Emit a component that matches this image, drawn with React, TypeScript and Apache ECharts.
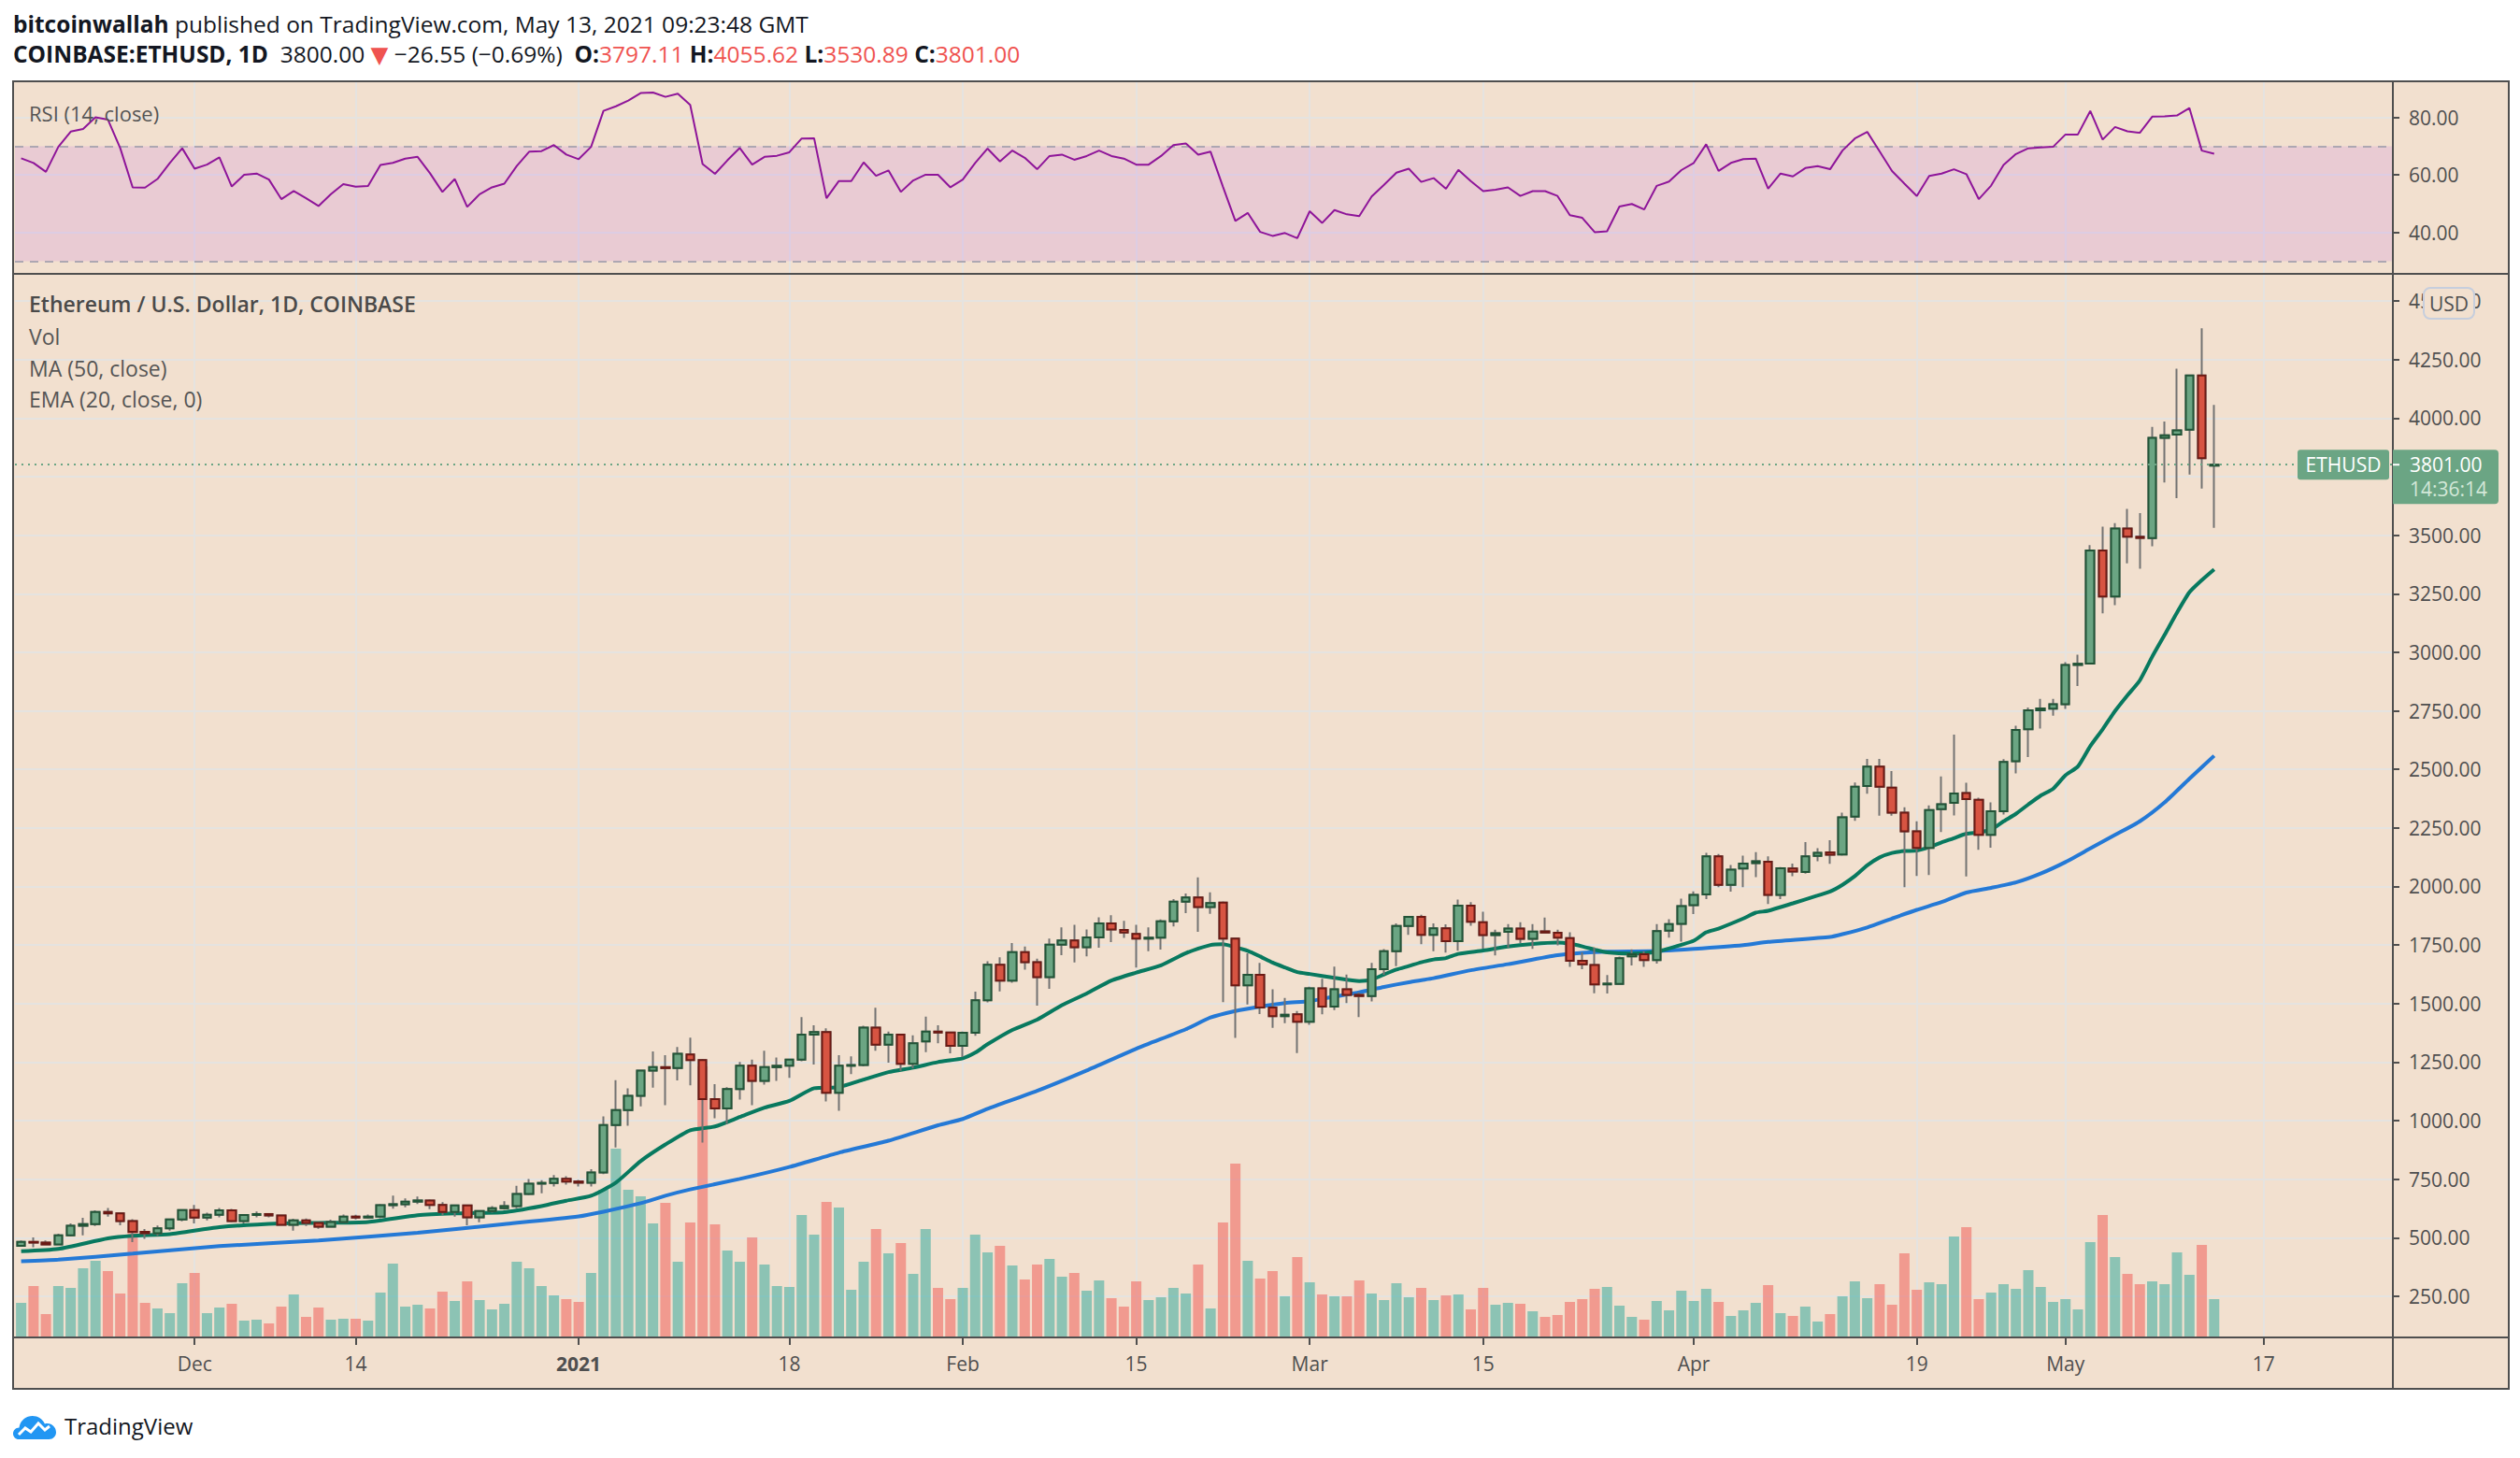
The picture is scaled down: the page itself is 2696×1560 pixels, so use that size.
import React, { useEffect, useRef } from "react";
import * as echarts from "echarts";

// ---------- categories (one per day, Nov 17 2020 .. May 27 2021) ----------
const START_UTC = Date.UTC(2020, 10, 17);
const N_DAYS = 192;
const categories: string[] = Array.from({ length: N_DAYS }, (_, i) =>
  new Date(START_UTC + i * 86400000).toISOString().slice(0, 10)
);

const tickDates = ["2020-12-01", "2020-12-14", "2021-01-01", "2021-01-18", "2021-02-01", "2021-02-15", "2021-03-01", "2021-03-15", "2021-04-01", "2021-04-19", "2021-05-01", "2021-05-17"];
const tickLabels = ["Dec", "14", "2021", "18", "Feb", "15", "Mar", "15", "Apr", "19", "May", "17"];
const priceTicks = [250, 500, 750, 1000, 1250, 1500, 1750, 2000, 2250, 2500, 2750, 3000, 3250, 3500, 3750, 4000, 4250, 4500];
const rsiTicks = [40, 60, 80];
const rsiLevels = [30, 70];

// ---------- daily OHLC (Nov 17 2020 .. May 13 2021) ----------
const opens = [
  465, 482, 479, 471, 510, 551, 558, 610, 604, 571, 525, 519, 540, 578,
  618, 586, 598, 617, 571, 597, 601, 595, 555, 574, 563, 547, 567, 590, 586, 590, 639, 643, 654, 659, 640, 610, 638, 587, 614, 626, 635, 687, 731, 734, 752,
  740, 735, 778, 981, 1045, 1106, 1213, 1228, 1224, 1282, 1258, 1092, 1052, 1135, 1234, 1170, 1228, 1234, 1260, 1367, 1378, 1119, 1234, 1237, 1397, 1324, 1367, 1242, 1338, 1380, 1376,
  1319, 1375, 1514, 1665, 1598, 1719, 1676, 1613, 1751, 1769, 1740, 1782, 1842, 1814, 1797, 1777, 1781, 1851, 1935, 1953, 1912, 1931, 1777, 1578, 1623, 1483, 1446, 1454,
  1422, 1565, 1487, 1561, 1537, 1532, 1647, 1723, 1831, 1870, 1793, 1821, 1766, 1918, 1847, 1792, 1806, 1820, 1776, 1808, 1802, 1779, 1682, 1664, 1582, 1584, 1701, 1710, 1685, 1811, 1840,
  1920, 1966, 2128, 2007, 2077, 2100, 2106, 1964, 2077, 2062, 2130, 2145, 2136, 2298, 2429, 2512, 2422, 2315, 2235, 2164, 2330, 2357, 2399, 2370, 2220, 2321, 2535, 2671, 2752, 2759,
  2778, 2946, 2952, 3435, 3238, 3528, 3493, 3487, 3916, 3930, 3950, 4182, 3797,
];
const highs = [
  488, 501, 488, 517, 561, 585, 617, 627, 606, 579, 537, 552, 579, 622,
  640, 607, 627, 623, 598, 612, 604, 596, 581, 582, 564, 577, 599, 598, 599, 644, 680, 668, 676, 664, 652, 640, 640, 615, 635, 656, 722, 751, 746, 767, 762,
  747, 792, 1018, 1173, 1138, 1213, 1295, 1279, 1314, 1354, 1263, 1156, 1143, 1250, 1260, 1298, 1269, 1262, 1442, 1407, 1394, 1279, 1274, 1405, 1482, 1380, 1368, 1364, 1444, 1407, 1380,
  1380, 1551, 1680, 1697, 1758, 1743, 1691, 1777, 1825, 1836, 1816, 1868, 1877, 1853, 1836, 1825, 1859, 1946, 1970, 2039, 1975, 1936, 1780, 1714, 1673, 1561, 1524, 1468,
  1572, 1606, 1658, 1624, 1548, 1673, 1732, 1842, 1870, 1879, 1842, 1838, 1944, 1933, 1892, 1815, 1839, 1847, 1839, 1867, 1815, 1804, 1718, 1739, 1622, 1700, 1731, 1723, 1839, 1860, 1948,
  1979, 2143, 2138, 2092, 2131, 2146, 2128, 2083, 2098, 2189, 2163, 2197, 2315, 2444, 2545, 2545, 2493, 2338, 2278, 2346, 2470, 2648, 2443, 2379, 2359, 2544, 2686, 2764, 2801, 2801,
  2958, 2990, 3458, 3536, 3551, 3612, 3594, 3962, 3985, 4211, 4182, 4384, 4056,
];
const lows = [
  463, 459, 467, 470, 505, 510, 550, 590, 553, 481, 495, 508, 530, 570,
  561, 574, 587, 566, 561, 587, 587, 551, 530, 550, 538, 543, 566, 578, 581, 583, 624, 630, 644, 622, 597, 590, 553, 566, 607, 620, 626, 682, 690, 719, 727,
  719, 719, 771, 885, 978, 1061, 1141, 1066, 1172, 1151, 906, 1010, 986, 1090, 1066, 1154, 1170, 1183, 1253, 1239, 1082, 1042, 1199, 1231, 1298, 1247, 1212, 1223, 1292, 1330, 1287,
  1271, 1362, 1505, 1552, 1589, 1645, 1491, 1563, 1706, 1675, 1701, 1738, 1762, 1780, 1654, 1723, 1730, 1829, 1886, 1806, 1883, 1506, 1353, 1496, 1455, 1396, 1416, 1288,
  1409, 1454, 1472, 1502, 1442, 1509, 1623, 1660, 1793, 1753, 1723, 1717, 1725, 1832, 1734, 1705, 1738, 1758, 1733, 1801, 1748, 1657, 1647, 1544, 1543, 1583, 1663, 1657, 1670, 1781, 1764,
  1882, 1946, 1997, 1978, 1997, 2040, 1925, 1946, 2044, 2055, 2108, 2097, 2131, 2280, 2396, 2302, 2302, 1997, 2045, 2049, 2232, 2303, 2043, 2156, 2165, 2307, 2483, 2553, 2674, 2729,
  2758, 2856, 2950, 3166, 3201, 3380, 3357, 3453, 3725, 3658, 3759, 3699, 3531,
];
const closes = [
  482, 479, 471, 510, 551, 558, 610, 604, 571, 525, 519, 540, 578, 618,
  586, 598, 617, 571, 597, 601, 595, 555, 574, 563, 547, 567, 590, 586, 590, 639, 643, 654, 659, 640, 610, 638, 587, 614, 626, 635, 687, 731, 734, 752, 740,
  735, 778, 981, 1045, 1106, 1213, 1228, 1224, 1285, 1258, 1092, 1052, 1135, 1234, 1170, 1228, 1234, 1260, 1367, 1378, 1119, 1234, 1237, 1397, 1324, 1367, 1242, 1330, 1380, 1376, 1319,
  1375, 1514, 1665, 1598, 1719, 1676, 1613, 1751, 1769, 1740, 1782, 1842, 1816, 1803, 1777, 1781, 1851, 1935, 1953, 1912, 1929, 1777, 1578, 1623, 1483, 1446, 1452, 1422,
  1565, 1487, 1561, 1537, 1532, 1647, 1723, 1831, 1870, 1793, 1821, 1766, 1918, 1849, 1792, 1800, 1820, 1776, 1807, 1803, 1781, 1682, 1667, 1582, 1585, 1693, 1710, 1685, 1809, 1839, 1916,
  1964, 2128, 2007, 2072, 2098, 2108, 1964, 2078, 2064, 2128, 2143, 2135, 2295, 2426, 2512, 2426, 2315, 2235, 2164, 2326, 2351, 2397, 2373, 2220, 2321, 2532, 2668, 2752, 2760, 2778,
  2946, 2951, 3435, 3238, 3528, 3493, 3488, 3916, 3927, 3947, 4182, 3829, 3801,
];
// relative daily volume
const volumes = [
  37, 55, 25, 55, 53, 74, 82, 71, 47, 112, 37, 31, 26, 58,
  69, 26, 32, 36, 18, 19, 15, 33, 46, 22, 32, 19, 20, 20, 18, 48, 79, 33, 35, 31, 49, 39, 60, 40, 30, 36, 81, 74, 55, 45, 41,
  38, 69, 158, 202, 158, 151, 122, 144, 81, 123, 290, 121, 93, 81, 107, 78, 55, 54, 131, 110, 145, 139, 51, 81, 116, 90, 101, 68, 116, 53, 41,
  53, 110, 91, 98, 77, 62, 78, 84, 65, 69, 50, 61, 42, 33, 60, 40, 43, 53, 47, 78, 31, 123, 186, 82, 63, 71, 44, 86,
  59, 46, 44, 44, 61, 47, 40, 58, 43, 53, 40, 45, 46, 30, 53, 35, 37, 36, 28, 22, 24, 38, 41, 52, 54, 34, 22, 19, 39, 29, 50,
  39, 52, 38, 23, 29, 37, 56, 26, 23, 33, 17, 25, 44, 60, 42, 57, 35, 90, 51, 59, 57, 108, 118, 41, 48, 57, 52, 72, 54, 38,
  41, 30, 102, 131, 86, 68, 57, 60, 57, 91, 67, 99, 41,
];
// RSI (14, close)
const rsi = [
  65.8, 64.2, 61.1, 69.8, 75.1, 76.0, 80.1, 79.3, 69.3, 55.7, 55.6, 58.6, 64.2, 69.3,
  62.2, 63.6, 66.1, 56.0, 60.1, 60.5, 58.4, 51.6, 54.4, 51.9, 49.2, 53.3, 56.8, 55.9, 56.2, 63.5, 64.2, 65.7, 66.3, 60.6, 54.1, 58.6, 48.9, 53.3, 55.7, 57.0, 63.1, 68.1, 68.3, 70.4, 67.1,
  65.5, 69.8, 82.3, 83.9, 85.9, 88.5, 88.7, 87.2, 88.3, 84.4, 63.8, 60.4, 65.1, 69.4, 63.6, 66.3, 66.7, 67.9, 72.7, 72.8, 51.9, 57.9, 57.9, 64.4, 59.7, 61.6, 54.1, 58.1, 60.1, 60.1, 55.7,
  58.4, 64.2, 69.2, 64.7, 68.5, 66.0, 62.0, 66.6, 67.1, 65.3, 66.6, 68.5, 66.6, 65.7, 63.6, 63.6, 66.6, 70.4, 71.0, 67.1, 68.1, 55.9, 44.0, 46.8, 40.2, 38.8, 39.8, 38.0,
  47.4, 43.3, 47.8, 46.3, 45.7, 52.5, 56.6, 60.8, 62.2, 57.6, 58.9, 55.2, 61.8, 57.9, 54.4, 54.9, 55.7, 52.7, 54.4, 54.4, 52.7, 46.0, 45.1, 40.1, 40.4, 49.0, 49.9, 48.0, 56.2, 57.7, 61.7,
  64.2, 70.7, 61.4, 64.2, 65.5, 65.7, 55.2, 60.5, 59.5, 62.4, 63.1, 62.0, 68.5, 72.7, 75.0, 68.2, 61.4, 57.0, 52.7, 59.7, 60.5, 62.0, 60.3, 51.6, 56.3, 63.5, 67.3, 69.3, 69.6, 69.8,
  74.1, 74.1, 82.3, 72.3, 76.7, 75.2, 74.7, 80.3, 80.4, 80.7, 83.3, 68.5, 67.4,
];
// EMA (20, close)
const ema20: [string, number][] = [
  ["2020-11-17", 442], ["2020-11-20", 452], ["2020-11-24", 497], ["2020-11-26", 508], ["2020-11-29", 515], ["2020-12-03", 545], ["2020-12-08", 561], ["2020-12-11", 563], ["2020-12-15", 567], ["2020-12-19", 596], ["2020-12-22", 604], ["2020-12-26", 609], ["2020-12-29", 635], ["2020-12-31", 658],
  ["2021-01-02", 679], ["2021-01-04", 735], ["2021-01-06", 827], ["2021-01-08", 898], ["2021-01-10", 959], ["2021-01-12", 975], ["2021-01-14", 1015], ["2021-01-16", 1055], ["2021-01-18", 1084], ["2021-01-20", 1138], ["2021-01-22", 1143], ["2021-01-24", 1175], ["2021-01-26", 1207], ["2021-01-28", 1226], ["2021-01-30", 1250],
  ["2021-02-01", 1266], ["2021-02-02", 1290], ["2021-02-03", 1326], ["2021-02-05", 1387], ["2021-02-07", 1431], ["2021-02-09", 1493], ["2021-02-11", 1543], ["2021-02-13", 1598], ["2021-02-15", 1632], ["2021-02-17", 1663], ["2021-02-19", 1715], ["2021-02-21", 1750], ["2021-02-22", 1753], ["2021-02-23", 1740], ["2021-02-24", 1725], ["2021-02-25", 1701], ["2021-02-26", 1675], ["2021-02-27", 1654], ["2021-02-28", 1634],
  ["2021-03-01", 1626], ["2021-03-03", 1610], ["2021-03-05", 1596], ["2021-03-06", 1602], ["2021-03-07", 1624], ["2021-03-08", 1645], ["2021-03-09", 1660], ["2021-03-10", 1676], ["2021-03-11", 1688], ["2021-03-12", 1694], ["2021-03-13", 1712], ["2021-03-15", 1726], ["2021-03-17", 1743], ["2021-03-19", 1754], ["2021-03-21", 1760], ["2021-03-22", 1755], ["2021-03-23", 1744], ["2021-03-24", 1730], ["2021-03-25", 1718], ["2021-03-27", 1713], ["2021-03-29", 1721], ["2021-03-31", 1751],
  ["2021-04-01", 1768], ["2021-04-02", 1804], ["2021-04-03", 1820], ["2021-04-05", 1863], ["2021-04-06", 1888], ["2021-04-07", 1896], ["2021-04-09", 1928], ["2021-04-11", 1961], ["2021-04-12", 1978], ["2021-04-13", 2007], ["2021-04-14", 2044], ["2021-04-15", 2090], ["2021-04-16", 2124], ["2021-04-17", 2143], ["2021-04-18", 2151], ["2021-04-19", 2153], ["2021-04-20", 2168], ["2021-04-21", 2188], ["2021-04-22", 2206], ["2021-04-23", 2225], ["2021-04-24", 2231], ["2021-04-25", 2243], ["2021-04-26", 2278], ["2021-04-27", 2310], ["2021-04-28", 2350], ["2021-04-29", 2388], ["2021-04-30", 2417],
  ["2021-05-01", 2475], ["2021-05-02", 2512], ["2021-05-03", 2599], ["2021-05-04", 2671], ["2021-05-05", 2749], ["2021-05-06", 2816], ["2021-05-07", 2880], ["2021-05-08", 2981], ["2021-05-09", 3074], ["2021-05-10", 3169], ["2021-05-11", 3256], ["2021-05-12", 3308], ["2021-05-13", 3354],
];
// MA (50, close)
const ma50: [string, number][] = [
  ["2020-11-17", 399], ["2020-11-20", 406], ["2020-11-26", 432], ["2020-12-03", 464], ["2020-12-11", 488], ["2020-12-19", 521], ["2020-12-26", 558],
  ["2021-01-01", 591], ["2021-01-03", 611], ["2021-01-06", 647], ["2021-01-08", 679], ["2021-01-10", 706], ["2021-01-14", 751], ["2021-01-18", 802], ["2021-01-22", 863], ["2021-01-26", 914], ["2021-01-30", 980],
  ["2021-02-01", 1007], ["2021-02-03", 1050], ["2021-02-07", 1127], ["2021-02-11", 1214], ["2021-02-15", 1307], ["2021-02-19", 1390], ["2021-02-21", 1440], ["2021-02-23", 1468], ["2021-02-25", 1487], ["2021-02-27", 1502],
  ["2021-03-01", 1510], ["2021-03-03", 1530], ["2021-03-05", 1548], ["2021-03-07", 1571], ["2021-03-09", 1591], ["2021-03-11", 1608], ["2021-03-14", 1642], ["2021-03-17", 1668], ["2021-03-21", 1706], ["2021-03-23", 1716], ["2021-03-25", 1721], ["2021-03-29", 1724],
  ["2021-04-01", 1733], ["2021-04-05", 1749], ["2021-04-07", 1763], ["2021-04-12", 1784], ["2021-04-13", 1796], ["2021-04-15", 1825], ["2021-04-17", 1863], ["2021-04-19", 1900], ["2021-04-21", 1933], ["2021-04-23", 1974], ["2021-04-25", 1994], ["2021-04-27", 2017], ["2021-04-29", 2055],
  ["2021-05-01", 2104], ["2021-05-03", 2162], ["2021-05-05", 2220], ["2021-05-07", 2278], ["2021-05-09", 2359], ["2021-05-11", 2460], ["2021-05-13", 2558],
];
const lastPrice = 3801.0;

// ---------- styling ----------
const FONT = "'Open Sans', 'Noto Sans', 'DejaVu Sans', sans-serif";
const BG = "#F2E0CF";
const GRID_C = "#E5E3E0";
const AXIS_C = "#4F4F4F";
const TXT = "#131722";
const RED = "#EF5350";
const LABEL_GREEN = "#6BA584";
const PLOT_LEFT = 16;
const PLOT_W = 2545;

const LOGO_D =
  "M6 31 C2.7 31 0 28.3 0 25 C0 21.4 2.9 18.5 6.5 18.5 C7.4 11.4 13.5 6 20.8 6 C26.6 6 31.6 9.4 33.9 14.4 C34.8 14.2 35.6 14 36.5 14 C41.7 14 46 18.3 46 23.5 C46 27.6 42.6 31 38.5 31 Z";
let logoRegistered = false;

function buildOption() {
  const tickSet = new Set(tickDates);
  const labelMap: Record<string, string> = {};
  tickDates.forEach((d, i) => (labelMap[d] = tickLabels[i]));
  // price labels hidden behind the last-price badge (as in the original)
  const priceLabelValues = priceTicks.filter((v) => v > lastPrice + 64 || v < lastPrice - 167);

  const wickData = opens.map((o, i) => [o, closes[i], lows[i], highs[i]]);
  const bodyData = opens.map((o, i) => [o, closes[i], Math.min(o, closes[i]), Math.max(o, closes[i])]);
  const volData = volumes.map((v, i) => ({
    value: v,
    itemStyle: { color: closes[i] >= opens[i] ? "rgba(38,166,154,0.5)" : "rgba(239,83,80,0.5)" },
  }));

  const gridLineStyle = { color: GRID_C, width: 2, type: "solid" as const };
  const markBase = { silent: true, symbol: ["none", "none"], label: { show: false }, emphasis: { disabled: true }, animation: false };

  return {
    animation: false,
    backgroundColor: "#FFFFFF",
    textStyle: { fontFamily: FONT },
    grid: [
      { left: PLOT_LEFT, top: 87, width: PLOT_W, height: 206 },
      { left: PLOT_LEFT, top: 293, width: PLOT_W, height: 1138 },
    ],
    xAxis: [
      { type: "category", gridIndex: 0, data: categories, boundaryGap: true, show: false },
      {
        type: "category",
        gridIndex: 1,
        data: categories,
        boundaryGap: true,
        axisLine: { show: false },
        splitLine: { show: false },
        axisTick: {
          show: true,
          alignWithLabel: true,
          interval: (_i: number, v: string) => tickSet.has(v),
          length: 8,
          lineStyle: { color: AXIS_C, width: 2 },
        },
        axisLabel: {
          interval: (_i: number, v: string) => tickSet.has(v),
          formatter: (v: string) => {
            const l = labelMap[v];
            if (!l) return "";
            return l === "2021" ? "{y|2021}" : l;
          },
          color: AXIS_C,
          fontSize: 21,
          fontFamily: FONT,
          margin: 17,
          rich: { y: { fontWeight: "bold", fontSize: 21, color: AXIS_C, fontFamily: FONT } },
        },
      },
    ],
    yAxis: [
      {
        type: "value",
        gridIndex: 0,
        position: "right",
        min: 25.6,
        max: 92.6,
        axisLine: { show: false },
        splitLine: { show: false },
        axisTick: { show: true, customValues: rsiTicks, length: 6, lineStyle: { color: AXIS_C, width: 2 } },
        axisLabel: { customValues: rsiTicks, formatter: (v: number) => v.toFixed(2), margin: 16, color: AXIS_C, fontSize: 21, fontFamily: FONT },
      },
      {
        type: "value",
        gridIndex: 1,
        position: "right",
        min: 74,
        max: 4616,
        axisLine: { show: false },
        splitLine: { show: false },
        axisTick: { show: true, customValues: priceTicks, length: 6, lineStyle: { color: AXIS_C, width: 2 } },
        axisLabel: { customValues: priceLabelValues, formatter: (v: number) => v.toFixed(2), margin: 16, color: AXIS_C, fontSize: 21, fontFamily: FONT },
      },
      { type: "value", gridIndex: 1, min: 0, max: 1138, show: false },
    ],
    series: [
      // RSI pane grid lines
      {
        type: "line", xAxisIndex: 0, yAxisIndex: 0, data: rsi, silent: true, showSymbol: false, z: 0,
        lineStyle: { opacity: 0 },
        markLine: {
          ...markBase, z: 0, lineStyle: gridLineStyle,
          data: [...rsiTicks.map((v) => ({ yAxis: v })), ...tickDates.map((d) => ({ xAxis: d }))],
        },
      },
      // RSI band 30-70 + dashed levels
      {
        type: "line", xAxisIndex: 0, yAxisIndex: 0, data: rsi, silent: true, showSymbol: false, z: 1,
        lineStyle: { opacity: 0 },
        markArea: { silent: true, z: 1, itemStyle: { color: "rgba(153,21,255,0.1)" }, data: [[{ yAxis: rsiLevels[0] }, { yAxis: rsiLevels[1] }]] },
        markLine: { ...markBase, z: 2, lineStyle: { color: "#ADA7B2", width: 2, type: [9, 7] }, data: rsiLevels.map((v) => ({ yAxis: v })) },
      },
      // RSI line
      {
        name: "RSI", type: "line", xAxisIndex: 0, yAxisIndex: 0, data: rsi, showSymbol: false, silent: true, z: 3,
        lineStyle: { color: "#8E1599", width: 2 },
      },
      // main pane grid lines
      {
        type: "line", xAxisIndex: 1, yAxisIndex: 1, data: closes, silent: true, showSymbol: false, z: 0,
        lineStyle: { opacity: 0 },
        markLine: {
          ...markBase, z: 0, lineStyle: gridLineStyle,
          data: [...priceTicks.map((v) => ({ yAxis: v })), ...tickDates.map((d) => ({ xAxis: d }))],
        },
      },
      // volume
      { name: "Vol", type: "bar", xAxisIndex: 1, yAxisIndex: 2, data: volData, barWidth: 11, silent: true, z: 1 },
      // MA 50
      {
        name: "MA50", type: "line", xAxisIndex: 1, yAxisIndex: 1, data: ma50, showSymbol: false, silent: true, smooth: 0.2, z: 3,
        lineStyle: { color: "#2479D6", width: 4 },
      },
      // EMA 20
      {
        name: "EMA20", type: "line", xAxisIndex: 1, yAxisIndex: 1, data: ema20, showSymbol: false, silent: true, smooth: 0.2, z: 3,
        lineStyle: { color: "#08795F", width: 4 },
      },
      // wicks
      {
        type: "candlestick", xAxisIndex: 1, yAxisIndex: 1, data: wickData, barWidth: 9, silent: true, z: 4,
        itemStyle: { color: "#737373", color0: "#737373", borderColor: "#737373", borderColor0: "#737373", borderColorDoji: "#737373", borderWidth: 2 },
      },
      // bodies
      {
        name: "ETHUSD", type: "candlestick", xAxisIndex: 1, yAxisIndex: 1, data: bodyData, barWidth: 9, silent: true, z: 5,
        itemStyle: { color: "#6BA583", color0: "#D75442", borderColor: "#225437", borderColor0: "#6B1A14", borderColorDoji: "#225437", borderWidth: 2 },
        markLine: { ...markBase, z: 6, lineStyle: { color: LABEL_GREEN, width: 2, type: [2, 5] }, data: [{ yAxis: lastPrice }] },
      },
    ],
  };
}

function buildGraphics(py: number) {
  const t = (x: number, y: number, text: string, size: number, fill: string, weight: string | number = "normal", align = "left") => ({
    type: "text",
    z: 30,
    silent: true,
    style: { x, y, text, fontSize: size, fontFamily: FONT, fontWeight: weight, fill, align, verticalAlign: "middle" },
  });
  const rs = (size: number, fill: string, weight: string | number) => ({ fontSize: size, fontFamily: FONT, fontWeight: weight, fill });
  const line = (x1: number, y1: number, x2: number, y2: number, w = 2) => ({
    type: "line", z: 25, silent: true, shape: { x1, y1, x2, y2 }, style: { stroke: AXIS_C, lineWidth: w },
  });
  const HS = 24.5;
  return [
    { type: "rect", z: -10, silent: true, shape: { x: 14, y: 87, width: 2670, height: 1399 }, style: { fill: BG } },
    // frame
    line(13, 87, 2685, 87),
    line(13, 293, 2685, 293),
    line(13, 1431, 2685, 1431),
    line(13, 1486, 2685, 1486),
    line(14, 87, 14, 1486),
    line(2560, 87, 2560, 1486),
    line(2684, 87, 2684, 1486),
    // header
    {
      type: "text", z: 30, silent: true,
      style: {
        x: 14, y: 25, verticalAlign: "middle",
        text: "{b|bitcoinwallah}{n| published on TradingView.com, May 13, 2021 09:23:48 GMT}",
        rich: { b: rs(HS, TXT, "bold"), n: rs(HS, TXT, "normal") },
      },
    },
    {
      type: "text", z: 30, silent: true,
      style: {
        x: 14, y: 57, verticalAlign: "middle",
        text: "{b|COINBASE:ETHUSD, 1D}{n|  3800.00 }{r|▼}{n| −26.55 (−0.69%)  }{b|O:}{r|3797.11}{b| H:}{r|4055.62}{b| L:}{r|3530.89}{b| C:}{r|3801.00}",
        rich: { b: rs(HS, TXT, "bold"), n: rs(HS, TXT, "normal"), r: rs(HS, RED, "normal") },
      },
    },
    // pane legends
    t(31, 121, "RSI (14, close)", 22, "#555555"),
    t(31, 325, "Ethereum / U.S. Dollar, 1D, COINBASE", 23, "#4A4A4A", 600),
    t(31, 360, "Vol", 23, "#555555"),
    t(31, 394, "MA (50, close)", 23, "#555555"),
    t(31, 427, "EMA (20, close, 0)", 23, "#555555"),
    // USD badge
    { type: "rect", z: 30, silent: true, shape: { x: 2593, y: 308, width: 54, height: 33, r: 7 }, style: { fill: BG, stroke: "#C6CEDD", lineWidth: 2 } },
    t(2620, 325, "USD", 21, AXIS_C, "normal", "center"),
    // last price labels
    { type: "rect", z: 30, silent: true, shape: { x: 2458, y: py - 16, width: 98, height: 32, r: 3 }, style: { fill: LABEL_GREEN } },
    t(2507, py, "ETHUSD", 21, "#FFFFFF", "normal", "center"),
    { type: "rect", z: 30, silent: true, shape: { x: 2560, y: py - 16, width: 113, height: 58, r: [0, 4, 4, 0] }, style: { fill: LABEL_GREEN } },
    { type: "line", z: 31, silent: true, shape: { x1: 2560, y1: py, x2: 2567, y2: py }, style: { stroke: "#FFFFFF", lineWidth: 2 } },
    t(2578, py, "3801.00", 21, "#FFFFFF"),
    t(2578, py + 26, "14:36:14", 21, "#D3E8D8"),
    // footer logo
    { type: "tvlogo", z: 30, silent: true, x: 14, y: 1509, scaleX: 1, scaleY: 1, style: { fill: "#2196F3" } },
    {
      type: "polyline", z: 31, silent: true,
      shape: { points: [[20, 1535], [27, 1528], [33, 1532], [41, 1523], [48, 1530], [53, 1526]] },
      style: { stroke: "#FFFFFF", lineWidth: 3, fill: "none" },
    },
    t(69, 1525, "TradingView", 24, TXT),
  ];
}

export default function App() {
  const ref = useRef<HTMLDivElement>(null);
  useEffect(() => {
    document.body.style.margin = "0";
    if (!logoRegistered) {
      echarts.graphic.registerShape("tvlogo", echarts.graphic.extendPath(LOGO_D, {}));
      logoRegistered = true;
    }
    const chart = echarts.init(ref.current!, null, { renderer: "svg" });
    chart.setOption(buildOption() as any);
    let py = chart.convertToPixel({ yAxisIndex: 1 } as any, lastPrice) as unknown as number;
    if (typeof py !== "number" || isNaN(py)) py = 497;
    chart.setOption({ graphic: [{ elements: buildGraphics(py) }] } as any);
    return () => chart.dispose();
  }, []);
  return <div ref={ref} style={{ position: "absolute", left: 0, top: 0, width: "2696px", height: "1560px" }} />;
}
